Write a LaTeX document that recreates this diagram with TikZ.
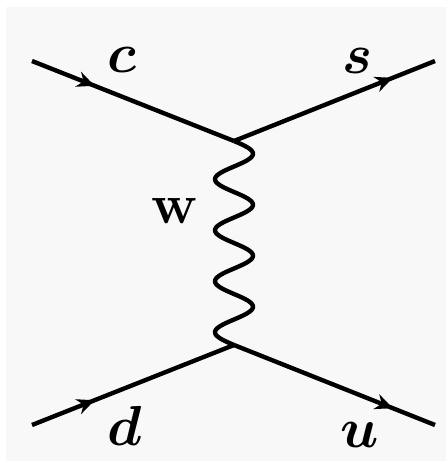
\documentclass[tikz,border=0pt]{standalone}
\usepackage{amsmath,bm}
\usepackage{tikz}
\usetikzlibrary{arrows.meta,decorations.markings}
\definecolor{panelgray}{RGB}{248,248,248}

\begin{document}
\begin{tikzpicture}[>=Stealth,x=0.02cm,y=-0.02cm,
    fermion/.style={line width=2.5pt,postaction={decorate},
      decoration={markings,mark=at position #1 with {\arrow{Stealth[length=10pt,width=9pt]}}}},
    boson/.style={line width=2.5pt,line join=round},
    lbl/.style={anchor=base,font=\Huge,scale=1.29}]
    \useasboundingbox (0,0) rectangle (446,461);
    \fill[white] (0,0) rectangle (446,461);
    \fill[panelgray] (6,7) rectangle (446,461);

    % vertices and free ends
    \coordinate (vtop) at (234,141);
    \coordinate (vbot) at (234,345);
    \coordinate (cin) at (32,61);
    \coordinate (sout) at (435,61);
    \coordinate (din) at (32,425);
    \coordinate (uout) at (435,425);

    % W exchange, four full waves from vtop down to vbot
    \draw[boson,shift={(vtop)}] plot[domain=0:204,samples=161,smooth]
        ({19*sin(7.0588*\x)},\x);

    % quark lines
    \draw[fermion=0.31] (cin) -- (vtop);
    \draw[fermion=0.79] (vtop) -- (sout);
    \draw[fermion=0.31] (din) -- (vbot);
    \draw[fermion=0.79] (vbot) -- (uout);

    % labels
    \node[lbl] (lc) at (122,72) {$\bm{c}$};
    \node[lbl] (ls) at (357,73) {$\bm{s}$};
    \node[lbl] (lw) at (174,223) {\textbf{w}};
    \node[lbl] (ld) at (125,445) {$\bm{d}$};
    \node[lbl] (lu) at (360,447) {$\bm{u}$};
\end{tikzpicture}
\end{document}
